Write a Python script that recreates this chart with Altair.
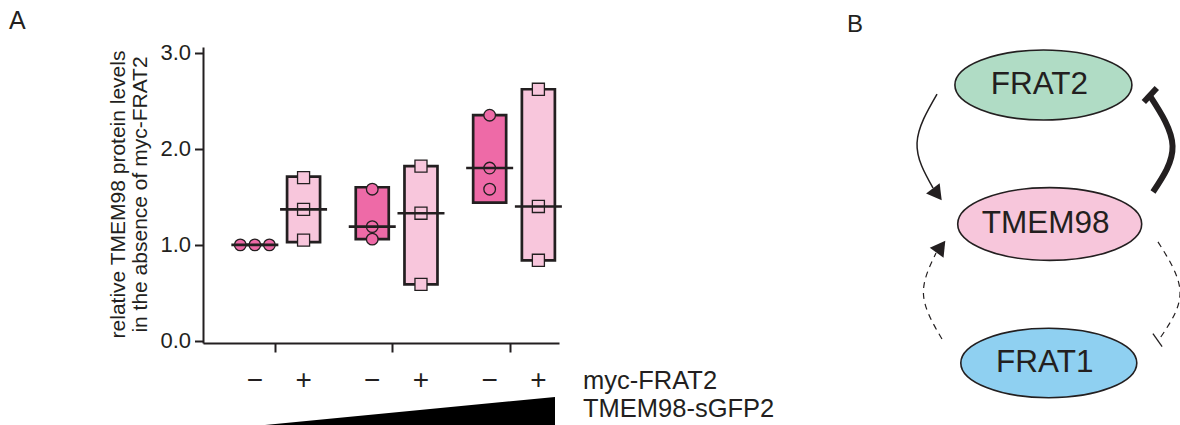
import altair as alt
import pandas as pd

# ---------------- Panel A data ----------------
groups = ["low", "mid", "high"]              # TMEM98-sGFP2 amount
myc_states = ["−", "+"]                      # myc-FRAT2 absent / present
cond_group = ["low", "low", "mid", "mid", "high", "high"]
cond_myc = ["−", "+", "−", "+", "−", "+"]
rep1 = [1.00, 1.70, 1.58, 1.82, 2.35, 2.62]
rep2 = [1.00, 1.37, 1.19, 1.33, 1.80, 1.40]
rep3 = [1.00, 1.05, 1.06, 0.59, 1.58, 0.84]
bar_low = [1.00, 1.03, 1.06, 0.59, 1.44, 0.84]
bar_high = [1.00, 1.71, 1.60, 1.82, 2.35, 2.62]
y_ticks = [0, 1, 2, 3]
y_title = ["relative TMEM98 protein levels", "in the absence of myc-FRAT2"]
row_labels = ["myc-FRAT2", "TMEM98-sGFP2"]
ramp = [0.0, 1.0]                            # relative TMEM98-sGFP2 amount

# ---------------- Panel B data ----------------
nodes = ["FRAT2", "TMEM98", "FRAT1"]
node_fill = ["#b0dcc5", "#f7c6db", "#8fd0f1"]
edge_names = ["FRAT2→TMEM98", "TMEM98⊣FRAT2", "FRAT1→TMEM98", "TMEM98⊣FRAT1"]
edge_kind = ["activates", "inhibits", "activates", "inhibits"]
edge_line = ["thin", "thick", "dashed", "dashed"]

# ---------------- layout of the diagram (diagram units) ----------------
node_u = [-0.04, 0.03, 0.02]
node_v = [0.0, 1.0, 2.0]
node_area = [31329, 33856, 30976]
edge_path = [
    [(-1.222, 0.065), (-1.444, 0.417), (-1.267, 0.741)],
    [(1.178, 0.770), (1.395, 0.439), (1.144, 0.079)],
    [(-1.167, 1.827), (-1.372, 1.511), (-1.233, 1.209)],
    [(1.233, 1.129), (1.478, 1.489), (1.262, 1.815)],
]
edge_head = [(-1.219, 0.786, 143), (1.148, 0.072, 133), (-1.178, 1.164, 36), (1.228, 1.835, 55)]
head_len = [289, 361, 289, 256]
head_width = [1.5, 6.0, 1.2, 1.3]

INK = "#231f20"
HOT = "#ee6aa7"
PALE = "#f8c6dc"
FONT = "Liberation Sans"

gi = [groups.index(g) + 1 for g in cond_group]
cond_df = pd.DataFrame({"group": cond_group, "myc": cond_myc, "gi": gi,
                        "low": bar_low, "high": bar_high})
pts_rows = []
for i in range(len(cond_group)):
    for r in (rep1, rep2, rep3):
        pts_rows.append({"group": cond_group[i], "myc": cond_myc[i], "gi": gi[i], "value": r[i]})
pts_df = pd.DataFrame(pts_rows)

pos_calc = "datum.gi + (datum.myc == '+' ? 0.245 : -0.17)"

xA = alt.Scale(domain=[0.431, 3.378], nice=False, zero=False)
yA = alt.Scale(domain=[-0.021, 3.06], nice=False, zero=False)

x_axis = alt.Axis(values=[1, 2, 3], labels=False, title=None, tickSize=9, tickWidth=2,
                  tickColor=INK, domainColor=INK, domainWidth=2, grid=False)
y_axis = alt.Axis(values=y_ticks, format=".1f", title=y_title, grid=False,
                  titleFont=FONT, titleFontSize=21, titleFontWeight="normal", titleColor=INK,
                  titleAngle=270, titleAlign="center", titleBaseline="alphabetic",
                  titleX=-79, titleY=147, titleLineHeight=22,
                  labelFont=FONT, labelFontSize=22, labelColor=INK, labelPadding=4,
                  tickSize=8.5, tickWidth=2, tickColor=INK, domainColor=INK, domainWidth=2)

bars = alt.Chart(cond_df).transform_calculate(pos=pos_calc).mark_bar(
    size=33, stroke=INK, strokeWidth=2.7, opacity=1
).encode(
    x=alt.X("pos:Q", scale=xA, axis=x_axis),
    y=alt.Y("low:Q", scale=yA, axis=y_axis),
    y2="high:Q",
    fill=alt.Fill("myc:N", scale=alt.Scale(domain=myc_states, range=[HOT, PALE]), legend=None),
)

points = alt.Chart(pts_df).transform_window(
    rn="row_number()", cnt="count()", groupby=["group", "myc", "value"], frame=[None, None]
).transform_calculate(
    pos=pos_calc + " + (datum.rn - (datum.cnt + 1) / 2) * 0.124"
).mark_point(filled=True, opacity=1, stroke=INK, strokeWidth=1.3).encode(
    x=alt.X("pos:Q", scale=xA),
    y=alt.Y("value:Q", scale=yA),
    shape=alt.Shape("myc:N", scale=alt.Scale(domain=myc_states, range=["circle", "square"]), legend=None),
    fill=alt.Fill("myc:N", scale=alt.Scale(domain=myc_states, range=[HOT, PALE]), legend=None),
    size=alt.Size("myc:N", scale=alt.Scale(domain=myc_states, range=[135, 145]), legend=None),
)

medians = alt.Chart(pts_df).transform_aggregate(
    med="median(value)", groupby=["group", "myc", "gi"]
).transform_calculate(pos=pos_calc).mark_tick(
    orient="horizontal", size=47, thickness=2.6, color=INK, opacity=1
).encode(
    x=alt.X("pos:Q", scale=xA),
    y=alt.Y("med:Q", scale=yA),
)

signs = alt.Chart(cond_df).transform_calculate(pos=pos_calc).mark_text(
    font=FONT, fontSize=28, color=INK, baseline="middle", align="center"
).encode(
    x=alt.X("pos:Q", scale=xA),
    y=alt.value(334),
    text="myc:N",
)

panelA = alt.layer(bars, points, medians, signs)

row_df = pd.DataFrame({"label": row_labels})
row1 = alt.Chart(row_df).transform_filter(alt.datum.label == row_labels[0]).mark_text(
    font=FONT, fontSize=25.5, color=INK, align="left", baseline="alphabetic"
).encode(text="label:N", x=alt.value(380), y=alt.value(342))
row2 = alt.Chart(row_df).transform_filter(alt.datum.label == row_labels[1]).mark_text(
    font=FONT, fontSize=25.5, color=INK, align="left", baseline="alphabetic"
).encode(text="label:N", x=alt.value(380), y=alt.value(370))

wedge = alt.Chart(pd.DataFrame({"amount": ramp})).mark_area(color="#000000", opacity=1).encode(
    x=alt.X("amount:Q", scale=alt.Scale(domain=[0, 1], range=[62, 352], nice=False, zero=False), axis=None),
    y=alt.Y("amount:Q", scale=alt.Scale(domain=[0, 1], range=[378, 350], nice=False, zero=False), axis=None),
    y2=alt.datum(0),
)

# ---------------- Panel B ----------------
node_df = pd.DataFrame({"name": nodes, "fill": node_fill, "u": node_u, "v": node_v, "area": node_area})
path_rows = []
for e, pts in enumerate(edge_path):
    for k, (u, v) in enumerate(pts):
        path_rows.append({"edge": edge_names[e], "line": edge_line[e], "seq": k, "u": u, "v": v})
path_df = pd.DataFrame(path_rows)
head_df = pd.DataFrame({"edge": edge_names, "kind": edge_kind,
                        "u": [h[0] for h in edge_head], "v": [h[1] for h in edge_head],
                        "angle": [h[2] for h in edge_head], "len2": head_len, "w": head_width})

xD = alt.Scale(domain=[-2, 2], range=[664, 1024], nice=False, zero=False)
yD = alt.Scale(domain=[0, 2], range=[38, 316], nice=False, zero=False)
XD = alt.X("u:Q", scale=xD, axis=None)
YD = alt.Y("v:Q", scale=yD, axis=None)

k = 0.5523
r = 0.395
kr = round(k * r, 4)
ELLIPSE = (f"M-1,0 C-1,-{kr} -{k},-{r} 0,-{r} C{k},-{r} 1,-{kr} 1,0 "
           f"C1,{kr} {k},{r} 0,{r} C-{k},{r} -1,{kr} -1,0 Z")

ellipses = alt.Chart(node_df).mark_point(
    shape=ELLIPSE, filled=True, stroke=INK, strokeWidth=1.6, opacity=1
).encode(x=XD, y=YD, fill=alt.Fill("fill:N", scale=None), size=alt.Size("area:Q", scale=None))

node_text = alt.Chart(node_df).mark_text(
    font=FONT, fontSize=31.5, color=INK, baseline="middle", align="center", dx=-4
).encode(x=XD, y=YD, text="name:N")

line_thin = alt.Chart(path_df).transform_filter(alt.datum.line == "thin").mark_line(
    interpolate="natural", color=INK, strokeWidth=1.5
).encode(x=XD, y=YD, detail="edge:N", order="seq:Q")
line_thick = alt.Chart(path_df).transform_filter(alt.datum.line == "thick").mark_line(
    interpolate="natural", color=INK, strokeWidth=6, strokeCap="butt"
).encode(x=XD, y=YD, detail="edge:N", order="seq:Q")
line_dash = alt.Chart(path_df).transform_filter(alt.datum.line == "dashed").mark_line(
    interpolate="natural", color=INK, strokeWidth=1.2, strokeDash=[6, 5]
).encode(x=XD, y=YD, detail="edge:N", order="seq:Q")

arrowheads = alt.Chart(head_df).transform_filter(alt.datum.kind == "activates").mark_point(
    shape="triangle-up", filled=True, color=INK, opacity=1
).encode(x=XD, y=YD, angle=alt.Angle("angle:Q", scale=None), size=alt.Size("len2:Q", scale=None))

tbars = alt.Chart(head_df).transform_filter(alt.datum.kind == "inhibits").mark_point(
    shape="stroke", filled=False, color=INK, opacity=1
).encode(x=XD, y=YD, angle=alt.Angle("angle:Q", scale=None),
         size=alt.Size("len2:Q", scale=None), strokeWidth=alt.StrokeWidth("w:Q", scale=None))

diagram = alt.layer(line_thin, line_thick, line_dash, arrowheads, tbars, ellipses, node_text)

letters_df = pd.DataFrame({"panel": ["A", "B"]})
letA = alt.Chart(letters_df).transform_filter(alt.datum.panel == "A").mark_text(
    font=FONT, fontSize=25, color=INK, align="left", baseline="alphabetic"
).encode(text="panel:N", x=alt.value(-194), y=alt.value(-18))
letB = alt.Chart(letters_df).transform_filter(alt.datum.panel == "B").mark_text(
    font=FONT, fontSize=24, color=INK, align="left", baseline="alphabetic"
).encode(text="panel:N", x=alt.value(644), y=alt.value(-15))

chart = alt.layer(panelA, wedge, diagram, row1, row2, letA, letB).resolve_scale(
    x="independent", y="independent", fill="independent", size="independent",
    shape="independent", angle="independent", strokeWidth="independent"
).properties(
    width=356, height=296,
    padding={"left": 203, "top": 47, "right": 621, "bottom": 82},
    autosize=alt.AutoSizeParams(type="none"),
).configure_view(stroke=None)

chart.save("out.html", embed_options={"renderer": "svg", "actions": False})
